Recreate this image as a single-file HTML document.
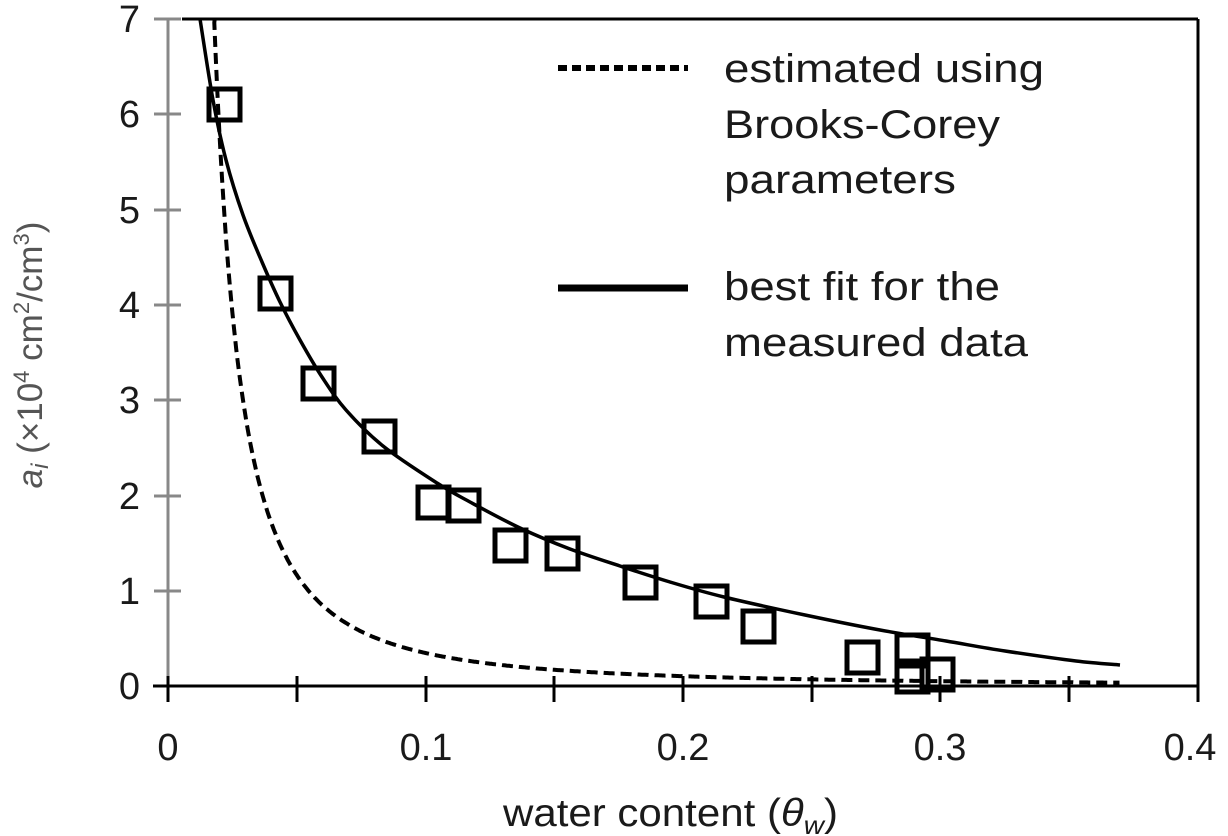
<!DOCTYPE html>
<html><head><meta charset="utf-8"><style>
html,body{margin:0;padding:0;background:#fff;}
svg{display:block;}
text{font-family:"Liberation Sans",Arial,sans-serif;fill:#1a1a1a;}
</style></head><body>
<svg id="s" width="1228" height="836" viewBox="0 0 1228 836" xmlns="http://www.w3.org/2000/svg">
<line x1="182" y1="19" x2="1198" y2="19" stroke="#000" stroke-width="3"/>
<line x1="1198" y1="19" x2="1198" y2="702" stroke="#000" stroke-width="3"/>
<line x1="168" y1="19" x2="168" y2="686" stroke="#888" stroke-width="3"/>
<g stroke="#888" stroke-width="3">
<line x1="154" y1="19" x2="181" y2="19"/>
<line x1="154" y1="114" x2="181" y2="114"/>
<line x1="154" y1="210" x2="181" y2="210"/>
<line x1="154" y1="305" x2="181" y2="305"/>
<line x1="154" y1="400" x2="181" y2="400"/>
<line x1="154" y1="496" x2="181" y2="496"/>
<line x1="154" y1="591" x2="181" y2="591"/>
</g>
<line x1="153" y1="686" x2="1198" y2="686" stroke="#000" stroke-width="3"/>
<g stroke="#000" stroke-width="3">
<line x1="168" y1="676" x2="168" y2="702"/>
<line x1="297" y1="676" x2="297" y2="702"/>
<line x1="426" y1="676" x2="426" y2="702"/>
<line x1="554" y1="676" x2="554" y2="702"/>
<line x1="683" y1="676" x2="683" y2="702"/>
<line x1="812" y1="676" x2="812" y2="702"/>
<line x1="940" y1="676" x2="940" y2="702"/>
<line x1="1069" y1="676" x2="1069" y2="702"/>
</g>
<g font-size="38" text-anchor="end">
<text x="140" y="32">7</text>
<text x="140" y="127">6</text>
<text x="140" y="223">5</text>
<text x="140" y="318">4</text>
<text x="140" y="413">3</text>
<text x="140" y="509">2</text>
<text x="140" y="604">1</text>
<text x="140" y="699">0</text>
</g>
<g font-size="38" text-anchor="middle">
<text x="168" y="760">0</text>
<text x="426" y="760">0.1</text>
<text x="683" y="760">0.2</text>
<text x="940" y="760">0.3</text>
<text x="1190" y="760">0.4</text>
</g>
<text x="503" y="826" font-size="39" textLength="335" lengthAdjust="spacingAndGlyphs">water content (<tspan font-style="italic">θ</tspan><tspan font-style="italic" font-size="26" dy="8">w</tspan><tspan dy="-8">)</tspan></text>
<text transform="translate(42,355) rotate(-90)" font-size="35" text-anchor="middle" style="fill:#555"><tspan font-style="italic">a</tspan><tspan font-style="italic" font-size="24" dy="6">i</tspan><tspan dy="-6"> (×10</tspan><tspan font-size="22" dy="-13">4</tspan><tspan dy="13"> cm</tspan><tspan font-size="22" dy="-13">2</tspan><tspan dy="13">/cm</tspan><tspan font-size="22" dy="-13">3</tspan><tspan dy="13">)</tspan></text>
<path id="dash" fill="none" stroke="#000" stroke-width="4" stroke-dasharray="11,6"/>
<path id="solid" fill="none" stroke="#000" stroke-width="3.5" stroke-linejoin="round"/>
<g fill="none" stroke="#000" stroke-width="5">
<rect x="209" y="89" width="31" height="31"/>
<rect x="260" y="278" width="31" height="31"/>
<rect x="303" y="368" width="31" height="31"/>
<rect x="364" y="421" width="31" height="31"/>
<rect x="418" y="487" width="31" height="31"/>
<rect x="448" y="490" width="31" height="31"/>
<rect x="495" y="530" width="31" height="31"/>
<rect x="547" y="538" width="31" height="31"/>
<rect x="625" y="567" width="31" height="31"/>
<rect x="696" y="586" width="31" height="31"/>
<rect x="743" y="611" width="31" height="31"/>
<rect x="847" y="642" width="31" height="31"/>
<rect x="897" y="635" width="31" height="31"/>
<rect x="897" y="661" width="31" height="31"/>
<rect x="922" y="659" width="31" height="31"/>
</g>
<line x1="558" y1="68" x2="688" y2="68" stroke="#000" stroke-width="6" stroke-dasharray="9,5"/>
<line x1="558" y1="288" x2="688" y2="288" stroke="#000" stroke-width="7"/>
<g font-size="40">
<text x="724" y="82" textLength="320" lengthAdjust="spacingAndGlyphs">estimated using</text>
<text x="724" y="138" textLength="276" lengthAdjust="spacingAndGlyphs">Brooks-Corey</text>
<text x="724" y="193" textLength="232" lengthAdjust="spacingAndGlyphs">parameters</text>
<text x="724" y="300" textLength="276" lengthAdjust="spacingAndGlyphs">best fit for the</text>
<text x="724" y="356" textLength="304" lengthAdjust="spacingAndGlyphs">measured data</text>
</g>
</svg>
<script>
(function(){
  var X=function(v){return 168+v*2575;}, Y=function(a){return 686-a*95.3;};
  var d="",first=true;
  for(var t=0.0180;t<=0.37;t+=0.0005){
    var a=6.05*Math.pow(t/0.0195,-1.75);
    if(a>7) continue;
    d+=(first?"M":"L")+X(t).toFixed(1)+","+Y(a).toFixed(1)+" ";first=false;
  }
  document.getElementById("dash").setAttribute("d","M"+X(0.01815).toFixed(1)+",19 "+d.replace(/^M/,"L"));
  var p=[[200,19],[213,100],[226,160],[243,215],[262,262],[280,302],[300,340],[322,377],[346,410],[383,446],[437,483],[470,502],[520,528],[570,549],[620,566],[670,582],[724,597],[805,615],[880,630],[946,641],[1005,651],[1076,661],[1120,665]];
  var s="M"+p[0][0]+","+p[0][1];
  for(var i=0;i<p.length-1;i++){
    var p0=p[Math.max(0,i-1)],p1=p[i],p2=p[i+1],p3=p[Math.min(p.length-1,i+2)];
    var c1x=p1[0]+(p2[0]-p0[0])/6,c1y=p1[1]+(p2[1]-p0[1])/6;
    var c2x=p2[0]-(p3[0]-p1[0])/6,c2y=p2[1]-(p3[1]-p1[1])/6;
    s+=" C"+c1x.toFixed(1)+","+c1y.toFixed(1)+" "+c2x.toFixed(1)+","+c2y.toFixed(1)+" "+p2[0]+","+p2[1];
  }
  document.getElementById("solid").setAttribute("d",s);
})();
</script>
</body></html>
